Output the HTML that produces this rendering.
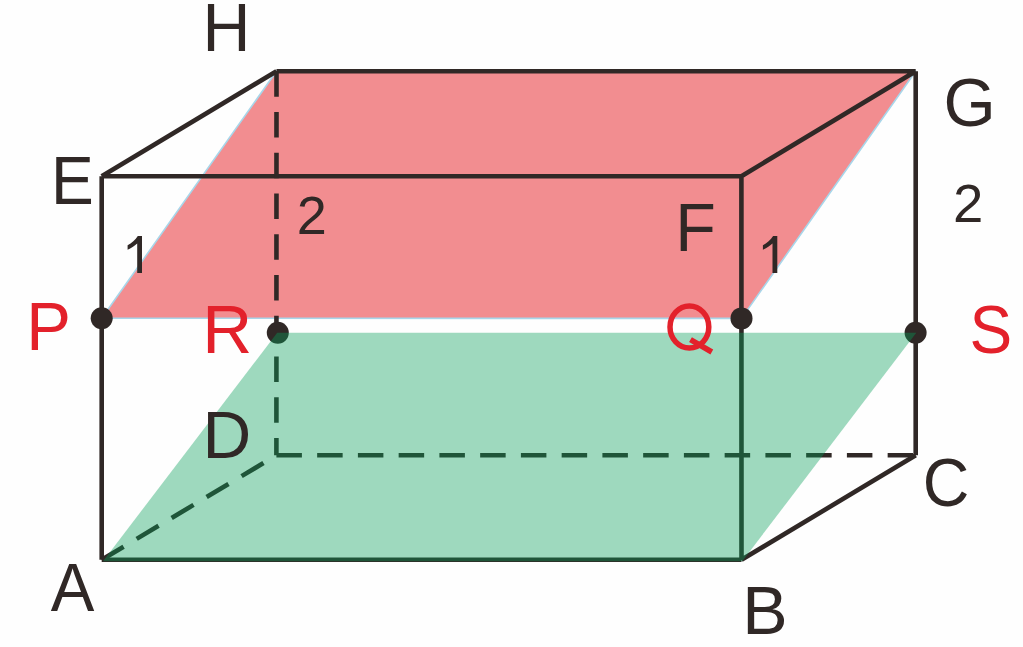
<!DOCTYPE html>
<html><head><meta charset="utf-8"><style>
html,body{margin:0;padding:0;background:#fefefe;}
svg{display:block;}
text{font-family:"Liberation Sans",sans-serif;font-size:100px;}
</style></head><body>
<svg width="1023" height="647" viewBox="0 0 1023 647">
<rect width="1023" height="647" fill="#fefefe"/>
<path d="M101.7,318.2L741.5,318.4L915.7,71.2L276.5,71.2Z" fill="#f28d90" stroke="#a8d6ea" stroke-width="1.6" stroke-linejoin="round"/>
<path d="M101.7,176.2L741.4,176.2 M276.5,71.2L915.7,71.2 M101.7,176.2L276.5,71.2 M741.4,176.2L915.7,71.2 M101.7,176.2L101.7,559.8 M741.4,176.2L741.5,559.8 M915.7,71.2L915.7,455.3 M101.7,559.8L741.5,559.8 M741.5,559.8L915.7,455.3" fill="none" stroke="#302826" stroke-width="4.6" stroke-linecap="butt"/>
<g fill="none" stroke="#302826" stroke-width="4.6" stroke-dasharray="25.5 15.25">
<path d="M276.5,71.2L276.4,455.3"/><path d="M276.4,455.3L915.7,455.3"/><path d="M101.7,559.8L276.4,455.3"/>
</g>
<g fill="#302826">
<circle cx="101.7" cy="318.2" r="11"/><circle cx="741.5" cy="318.4" r="11"/>
<circle cx="277.8" cy="332.8" r="11"/><circle cx="915.6" cy="332.7" r="11"/>
</g>
<path d="M103,561.2L742.3,561.2L916.3,332.7L277.2,332.7Z" fill="rgb(5,160,88)" fill-opacity="0.385"/>
<g fill="#302826">
<text transform="matrix(0.6637 0 0 0.6865 202.62 51.40)">H</text>
<text transform="matrix(0.6415 0 0 0.6807 50.91 203.80)">E</text>
<text transform="matrix(0.6713 0 0 0.6912 943.44 125.61)">G</text>
<text transform="matrix(0.6646 0 0 0.6909 675.22 250.50)">F</text>
<text transform="matrix(0.5407 0 0 0.5319 296.70 234.20)">2</text>
<text transform="matrix(0.5451 0 0 0.5276 952.97 221.90)">2</text>
<text transform="matrix(0.6751 0 0 0.6691 202.43 457.90)">D</text>
<text transform="matrix(0.6451 0 0 0.6883 922.77 505.61)">C</text>
<text transform="matrix(0.6536 0 0 0.6851 50.64 611.40)">A</text>
<text transform="matrix(0.6798 0 0 0.6778 742.29 634.00)">B</text>
<path d="M142,235.9L142,273.1L137.2,273.1L137.2,243.5C134.5,246 131,248.2 127.6,249.7L127.6,245.2C131.5,243.3 135.5,239.7 137.8,235.9Z"/>
<path d="M142,235.9L142,273.1L137.2,273.1L137.2,243.5C134.5,246 131,248.2 127.6,249.7L127.6,245.2C131.5,243.3 135.5,239.7 137.8,235.9Z" transform="translate(635.3,0)"/>
</g>
<g fill="#e3212b">
<text transform="matrix(0.6704 0 0 0.6764 26.37 349.50)">P</text>
<text transform="matrix(0.6920 0 0 0.6836 202.29 352.80)">R</text>
<text transform="matrix(0.6400 0 0 0.6869 969.42 353.21)">S</text>
<ellipse cx="689.4" cy="327" rx="19.4" ry="21" fill="none" stroke="#e3212b" stroke-width="5.5"/>
<path d="M690.5,339.6L711.8,352" stroke="#e3212b" stroke-width="5.6" fill="none"/>
</g>
</svg>
</body></html>
